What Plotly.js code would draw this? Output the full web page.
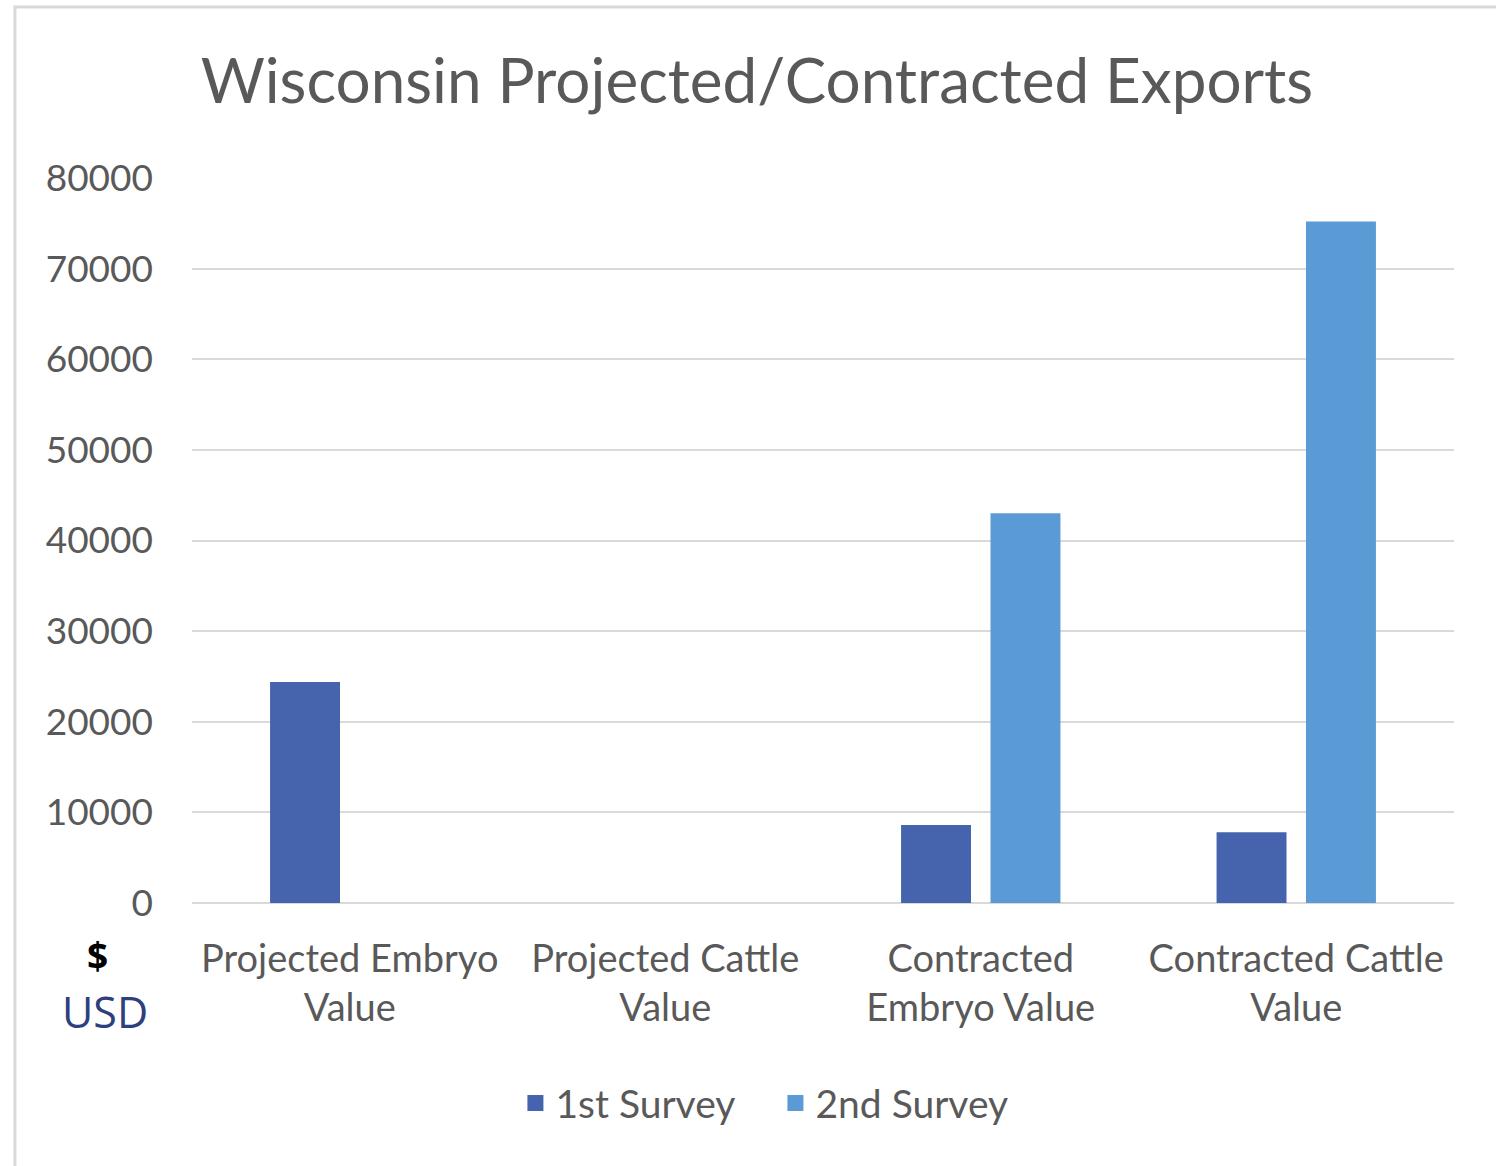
<!DOCTYPE html>
<html>
<head>
<meta charset="utf-8">
<script src="https://cdn.plot.ly/plotly-3.0.1.min.js"></script>
<style>html,body{margin:0;padding:0;background:#fff;}#chart{width:1496px;height:1166px;}</style>
</head>
<body>
<div id="chart"></div>
<script>
const categories = ["Projected Embryo<br>Value", "Projected Cattle<br>Value", "Contracted<br>Embryo Value", "Contracted Cattle<br>Value"];
const survey1 = [24400, 0, 8600, 7800];
const survey2 = [0, 0, 43000, 75200];
const seriesNames = ["1st Survey", "2nd Survey"];
const yTicks = [0, 10000, 20000, 30000, 40000, 50000, 60000, 70000, 80000];

const FONT = "Lato, 'Liberation Sans', sans-serif";
const GREY = "#595959";
const COLORS = ["#4664AD", "#5B9BD5"];

const traces = [
  {type: "bar", name: seriesNames[0], x: categories, y: survey1, marker: {color: COLORS[0]}, hoverinfo: "y", showlegend: false, legendgroup: "s1"},
  {type: "bar", name: seriesNames[1], x: categories, y: survey2, marker: {color: COLORS[1]}, hoverinfo: "y", showlegend: false, legendgroup: "s2"},
  {type: "scatter", mode: "markers", name: seriesNames[0], x: [null], y: [null], legendgroup: "s1",
   marker: {symbol: "square", size: 22, color: COLORS[0]}},
  {type: "scatter", mode: "markers", name: seriesNames[1], x: [null], y: [null], legendgroup: "s2",
   marker: {symbol: "square", size: 22, color: COLORS[1]}}
];

const layout = {
  width: 1496, height: 1166,
  paper_bgcolor: "#ffffff", plot_bgcolor: "#ffffff",
  margin: {l: 192, r: 42, t: 178, b: 263},
  barmode: "group", bargap: 0.433, bargroupgap: 0.218,
  title: {text: "Wisconsin Projected/Contracted Exports", x: 0.506, xanchor: "center", y: 0.93, yanchor: "middle",
          font: {family: FONT, size: 62, color: GREY}},
  font: {family: FONT, color: GREY},
  xaxis: {type: "category", showgrid: false, showline: false, zeroline: false, ticks: "", ticklabelstandoff: 30,
          tickfont: {family: FONT, size: 38, color: GREY}},
  yaxis: {range: [0, 80000], tickvals: yTicks, ticktext: yTicks.map(String),
          showgrid: true, gridcolor: "#d9d9d9", gridwidth: 2, zeroline: true, zerolinecolor: "#d9d9d9", zerolinewidth: 2,
          showline: false, ticks: "", ticklabelstandoff: 38,
          tickfont: {family: FONT, size: 37, color: GREY}},
  showlegend: true,
  legend: {orientation: "h", x: 0.4623, xanchor: "center", y: -0.276, yanchor: "middle",
           font: {family: FONT, size: 39, color: GREY}, itemwidth: 30, entrywidth: 215, traceorder: "normal"},
  annotations: [
    {xref: "paper", yref: "paper", x: -0.075, y: -0.073, xanchor: "center", yanchor: "middle", showarrow: false,
     text: "<b>$</b>", font: {family: "'Open Sans', sans-serif", size: 37, color: "#000000"}},
    {xref: "paper", yref: "paper", x: -0.069, y: -0.15, xanchor: "center", yanchor: "middle", showarrow: false,
     text: "USD", font: {family: "'Open Sans', sans-serif", size: 43, color: "#2E3F7E"}}
  ],
  shapes: [
    {type: "rect", xref: "paper", yref: "paper", x0: -0.1403, x1: 1.2, y0: -0.5, y1: 1.2359,
     line: {color: "#d9d9d9", width: 3}, fillcolor: "rgba(0,0,0,0)", layer: "below"}
  ]
};

Plotly.newPlot("chart", traces, layout, {displayModeBar: false, staticPlot: true});
</script>
</body>
</html>
